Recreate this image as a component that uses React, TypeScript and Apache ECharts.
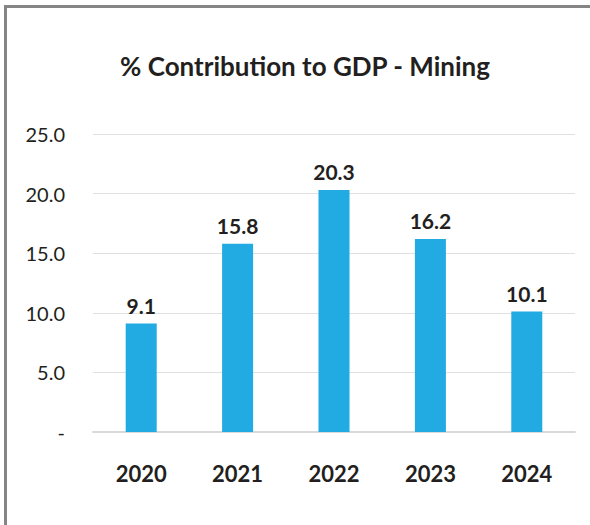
import React, { useEffect, useRef } from "react";
import * as echarts from "echarts";

const title = "% Contribution to GDP - Mining";
const categories = ["2020", "2021", "2022", "2023", "2024"];
const values = [9.1, 15.8, 20.3, 16.2, 10.1];
const yTicks = { min: 0, max: 25, interval: 5 };

export default function App() {
  const ref = useRef<HTMLDivElement>(null);
  useEffect(() => {
    document.body.style.margin = "0";
    const chart = echarts.init(ref.current!, null, { renderer: "svg" });
    const font = "Lato, 'Open Sans', sans-serif";
    chart.setOption({
      animation: false,
      backgroundColor: "#ffffff",
      title: {
        text: title,
        left: 300,
        top: 48,
        textAlign: "center",
        textStyle: { fontFamily: font, fontSize: 26, fontWeight: "bold", color: "#231f20" },
      },
      graphic: [
        { type: "line", shape: { x1: 5.5, y1: 6.5, x2: 5.5, y2: 525 }, style: { stroke: "#858585", lineWidth: 3 } },
        { type: "line", shape: { x1: 4, y1: 6.5, x2: 590, y2: 6.5 }, style: { stroke: "#858585", lineWidth: 3 } },
      ],
      grid: { left: 93, right: 15, top: 134, bottom: 93, containLabel: false },
      xAxis: {
        type: "category",
        data: categories,
        axisLine: { show: true, lineStyle: { color: "#d9d9d9", width: 2 } },
        axisTick: { show: false },
        axisLabel: { margin: 30, fontFamily: font, fontSize: 22, fontWeight: "bold", color: "#231f20" },
      },
      yAxis: {
        type: "value",
        min: yTicks.min,
        max: yTicks.max,
        interval: yTicks.interval,
        axisLine: { show: false },
        axisTick: { show: false },
        splitLine: { lineStyle: { color: "#e0e0e0", width: 1 } },
        axisLabel: {
          margin: 28,
          fontFamily: font,
          fontSize: 20,
          color: "#231f20",
          formatter: (v: number) => (v === 0 ? "-" : v.toFixed(1)),
        },
      },
      series: [
        {
          type: "bar",
          data: values,
          barWidth: 31,
          itemStyle: { color: "#22aae2" },
          label: {
            show: true,
            position: "top",
            distance: 8,
            fontFamily: font,
            fontSize: 21,
            fontWeight: "bold",
            color: "#231f20",
            formatter: (p: any) => Number(p.value).toFixed(1),
          },
        },
      ],
    });
    return () => chart.dispose();
  }, []);
  return <div ref={ref} style={{ position: "absolute", left: 0, top: 0, width: 590, height: 525 }} />;
}
